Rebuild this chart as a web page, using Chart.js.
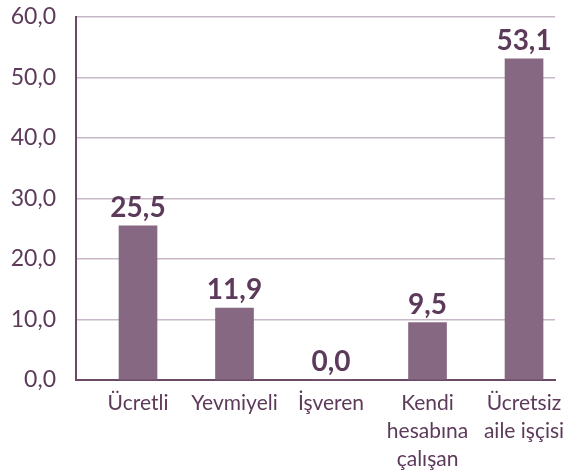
<!DOCTYPE html>
<html>
<head>
<meta charset="utf-8">
<script src="https://cdn.jsdelivr.net/npm/chart.js@4"></script>
<style>
  html, body { margin: 0; padding: 0; background: #fff; }
  .wrap { width: 566px; height: 472px; position: relative; }
</style>
</head>
<body>
<div class="wrap"><canvas id="chart"></canvas></div>
<script>
'use strict'
// categories (multi-line labels) and values
const categories = [
    ['Ücretli'],
    ['Yevmiyeli'],
    ['İşveren'],
    ['Kendi', 'hesabına', 'çalışan'],
    ['Ücretsiz', 'aile işçisi']
];
const values = [25.5, 11.9, 0.0, 9.5, 53.1];
const yTicks = [0, 10, 20, 30, 40, 50, 60];

const textColor = '#5c3a5a';
const barColor = '#876882';
const fmt = v => v.toFixed(1).replace('.', ',');

// value labels above bars
const barLabels = {
    id: 'barLabels',
    afterDatasetsDraw(chart) {
        const ctx = chart.ctx;
        const meta = chart.getDatasetMeta(0);
        ctx.save();
        ctx.font = 'bold 28px Lato';
        ctx.fillStyle = textColor;
        ctx.textAlign = 'center';
        ctx.textBaseline = 'alphabetic';
        meta.data.forEach((bar, i) => {
            ctx.fillText(fmt(values[i]), bar.x, bar.y - 9);
        });
        ctx.restore();
    }
};

new Chart(document.getElementById('chart'), {
    type: 'bar',
    data: {
        datasets: [{
            data: values.map((v, i) => ({ x: i + 1, y: v })),
            backgroundColor: barColor,
            barThickness: 38
        }]
    },
    options: {
        responsive: true,
        maintainAspectRatio: false,
        animation: false,
        layout: { padding: { top: 17, right: 11, left: 0, bottom: 0 } },
        plugins: { legend: { display: false }, tooltip: { enabled: false } },
        scales: {
            x: {
                type: 'linear',
                offset: false,
                min: 0.3575,
                max: 5.321,
                afterBuildTicks: scale => {
                    scale.ticks = categories.map((c, i) => ({ value: i + 1 }));
                },
                afterFit: scale => {
                    scale.height = 92;
                    scale.paddingLeft = 0;
                    scale.paddingRight = 0;
                },
                grid: { display: false, drawTicks: false, offset: false },
                border: { display: true, color: '#6a4a67', width: 2 },
                ticks: {
                    autoSkip: false,
                    maxRotation: 0,
                    padding: 9,
                    color: textColor,
                    font: { family: 'Lato', size: 21, lineHeight: 1.33 },
                    callback: v => categories[v - 1] || ''
                }
            },
            y: {
                min: 0,
                max: 60,
                afterBuildTicks: scale => {
                    scale.ticks = yTicks.map(v => ({ value: v }));
                },
                afterFit: scale => {
                    scale.width = 76;
                    scale.paddingTop = 0;
                    scale.paddingBottom = 0;
                },
                grid: { color: '#c8b7c6', lineWidth: 1.5, drawTicks: false },
                border: { display: true, color: '#6a4a67', width: 2 },
                ticks: {
                    padding: 20,
                    color: textColor,
                    font: { family: 'Lato', size: 23 },
                    callback: v => fmt(v)
                }
            }
        }
    },
    plugins: [barLabels]
});
</script>
</body>
</html>
